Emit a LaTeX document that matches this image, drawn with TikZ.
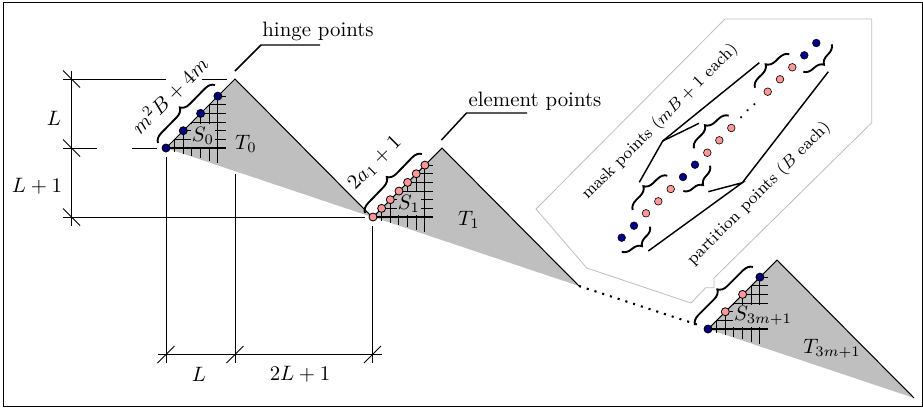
\documentclass[tikz,border=0pt]{standalone}
\usepackage{xcolor}
\usepackage{amsmath}
\usetikzlibrary{positioning, calc, decorations.pathreplacing}
\definecolor{mynavy}{RGB}{0,0,128}
\definecolor{mypink}{RGB}{255,153,153}
\definecolor{mygray}{RGB}{191,191,191}
\tikzset{
  hingept/.style={circle, draw=black, fill=mynavy, minimum size=8*0.48pt, inner sep=0pt, line width=0.4pt},
  elempt/.style={circle, draw=black, fill=mypink, minimum size=8*0.48pt, inner sep=0pt, line width=0.4pt},
  maskhinge/.style={circle, draw=black, fill=mynavy, minimum size=7.8*0.48pt, inner sep=0pt, line width=0.2pt},
  maskelem/.style={circle, draw=black, fill=mypink, minimum size=7.6*0.48pt, inner sep=0pt, line width=0.3pt},
  bracea/.style={decorate, decoration={brace, amplitude=4.5pt}, line width=0.9pt},
  dimline/.style={line width=0.4pt},
  gridline/.style={line width=0.5pt},
  leader/.style={line width=0.7pt},
  sublabel/.style={fill=mygray, inner xsep=0.5pt, inner ysep=1.5pt}
}
% draws one triangle with its grid, #1 name, #2 origin
\newcommand{\trianglegrid}[2]{
  \coordinate (#1) at #2;
  \coordinate (#1a) at ($(#1)+(69,-69)$);
  \coordinate (#1b) at ($(#1)+(206,69)$);
  \fill[mygray] (#1) -- (#1a) -- (#1b) -- cycle;
  \draw[line width=0.5pt] (#1) -- (#1a) -- (#1b);
  \foreach \i in {0,...,6}{
    \draw[gridline] ($(#1)+(8.65*\i,-8.65*\i)$) -- ($(#1)+(60,-8.65*\i)$);
    \draw[gridline] ($(#1)+(8.65*\i,-8.65*\i)$) -- ($(#1)+(8.65*\i,2+2.1*\i)$);
  }
}
\begin{document}
\begin{tikzpicture}[x=0.48pt, y=-0.48pt]
  \useasboundingbox (0,0) rectangle (923,408);
  \draw[line width=0.4pt] (3,2) rectangle (922,406);

  % Triangles
  \trianglegrid{t0}{(166,148)}
  \trianglegrid{t1}{(373,217)}
  \trianglegrid{t2}{(708,329)}
  \draw[line width=1pt, dash pattern=on 1pt off 2.9pt] (t1b) -- (700,325.5);

  % Labels in the triangles
  \node[sublabel] (s0) at (203,135.5) {$S_0$};
  \node[sublabel] (s1) at (409,203.5) {$S_1$};
  \node[sublabel, inner ysep=0.5pt] (s2) at (763,316) {$S_{3m+1}$};
  \node (l0) at (246,144) {$T_0$};
  \node (l1) at (469,220) {$T_1$};
  \node (l2) at (832,349) {$T_{3m+1}$};

  % Points on the triangles
  \foreach \i in {0,2,4,6}
    \node[hingept] (h\i) at ($(t0)+(8.65*\i,-8.65*\i)$) {};
  \foreach \i in {0,...,6}
    \node[elempt] (e\i) at ($(t1)+(8.65*\i,-8.65*\i)$) {};
  \node[hingept] (p0) at (t2) {};
  \node[elempt] (p2) at ($(t2)+(17.3,-17.3)$) {};
  \node[elempt] (p4) at ($(t2)+(34.6,-34.6)$) {};
  \node[hingept] (p6) at ($(t2)+(51.9,-51.9)$) {};

  % Braces
  \draw[bracea] (158,143) -- (215,85);
  \draw[bracea] (365,213) -- (422,154);
  \draw[bracea] (695,325) -- (753,267);
  \node[rotate=45] (bl0) at (169.5,95.5) {$m^2B+4m$};
  \node[rotate=45] (bl1) at (375,163.5) {$2a_1+1$};

  % Leaders
  \node (hinge) at (318,31) {hinge points};
  \node (elem) at (535,101) {element points};
  \draw[leader] (235,71) -- (261,45) -- (320,45);
  \draw[leader] (441.5,140) -- (466.5,113) -- (527,113);

  % Dimensions
  \draw[dimline] (71.5,71) -- (71.5,226);
  \draw[dimline] (63,79) -- (166,79) (201.5,79) -- (227,79);
  \draw[dimline] (63,148) -- (97,148) (132,148) -- (157,148);
  \draw[dimline] (63,217) -- (365,217);
  \foreach \y in {79,148,217}
    \draw[dimline] (63,\y-8.5) -- (80,\y+8.5);
  \draw[dimline] (166,157) -- (166,363);
  \draw[dimline] (235,174) -- (235,363);
  \draw[dimline] (372.5,226) -- (372.5,363);
  \draw[dimline] (158,354.5) -- (381.5,354.5);
  \foreach \x in {166,235,372.5}
    \draw[dimline] (\x-8.5,363) -- (\x+8.5,346);
  \node (dl) at (54,118) {$L$};
  \node (dl1) at (37,186) {$L+1$};
  \node (dh) at (199,374) {$L$};
  \node (dh1) at (300,374) {$2L+1$};

  % Magnified part
  \draw[mygray, line width=0.4pt] (725,19) -- (871.7,19) -- (871.7,122.7) -- (714,278)
    -- (714,287.7) -- (705.7,287.7) -- (691,303) -- (586.7,268) -- (536,209) -- cycle;
  \foreach \n/\x/\y in {a/621.7/237.7, b/634/225.7, c/683/177, d/695/164.7, e/804.3/55.3, f/816.3/43}
    \node[maskhinge] (m\n) at (\x,\y) {};
  \foreach \n/\x/\y in {a/646/213.3, b/658.3/201.3, c/670.7/189, d/707.3/152.7, e/719.3/140.3, f/731.3/128, g/767.7/91.7, h/780/79.3, i/792.3/67.3}
    \node[maskelem] (n\n) at (\x,\y) {};
  \node[rotate=45] (mdots) at (749.5,110) {$\cdots$};
  \draw[bracea] (632.7,210) -- (667.3,175.7);
  \draw[bracea] (694,148.3) -- (728.7,115.7);
  \draw[bracea] (755,87.7) -- (789.3,54.3);
  \draw[bracea] (650,226.7) -- (621.7,251.7);
  \draw[bracea] (710,165.7) -- (683.3,191);
  \draw[bracea] (831.7,44.3) -- (803.3,71.7);

  \coordinate (mj) at (662.7,141);
  \coordinate (pj) at (742.3,182.7);
  \draw[leader] (639.3,182.3) -- (mj) -- (699,123.3);
  \draw[leader] (mj) -- (759.3,62.7);
  \draw[leader] (648.3,251) -- (pj) -- (708.3,191.7);
  \draw[leader] (pj) -- (828.3,71.7);
  \node[rotate=45, font=\footnotesize] (masktxt) at (660,121.7) {mask points ($mB+1$ each)};
  \node[rotate=45, font=\footnotesize] (parttxt) at (759,193.3) {partition points ($B$ each)};
\end{tikzpicture}
\end{document}
